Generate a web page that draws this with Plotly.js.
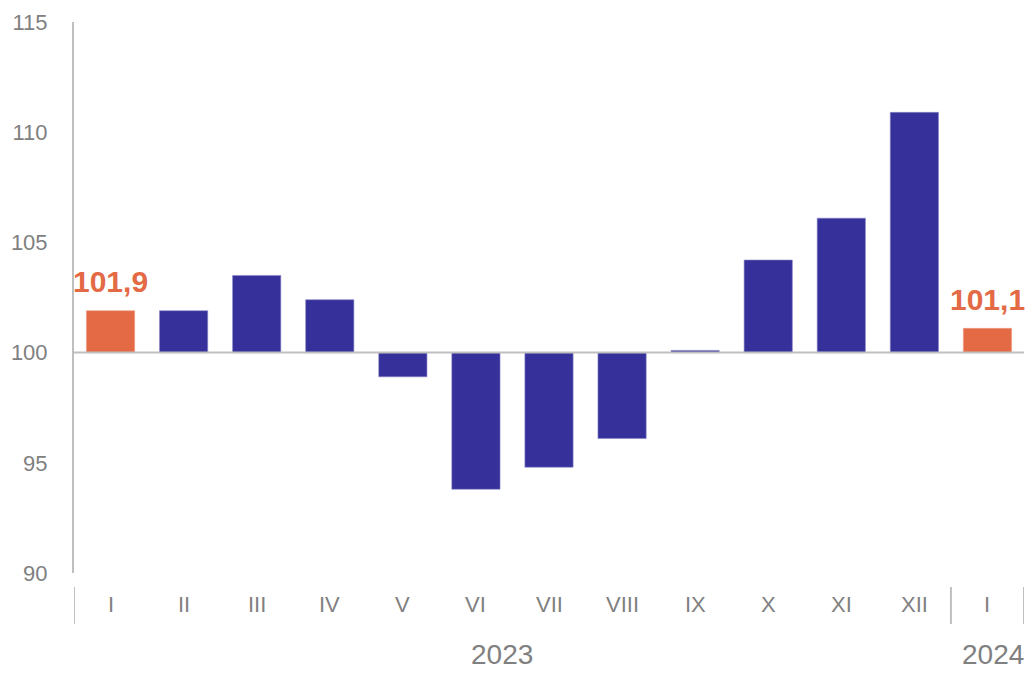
<!DOCTYPE html>
<html>
<head>
<meta charset="utf-8">
<script src="https://cdn.plot.ly/plotly-3.0.1.min.js"></script>
<style>html,body{margin:0;padding:0;background:#fff;}#chart{width:1032px;height:674px;}</style>
</head>
<body>
<div id="chart"></div>
<script>
const months = ["I","II","III","IV","V","VI","VII","VIII","IX","X","XI","XII","I"];
const values = [101.9,101.9,103.5,102.4,98.9,93.8,94.8,96.1,100.1,104.2,106.1,110.9,101.1];
const highlight = [true,false,false,false,false,false,false,false,false,false,false,false,true];
const labelText = ["101,9","","","","","","","","","","","","101,1"];
const years = ["2023","2024"];
const yearCenters = [5.35, 12.07];
const baseValue = 100;
const yTicks = [90,95,100,105,110,115];

const blue = "#35309A", orange = "#E36A45", grey = "#808080", lineGrey = "#BFBFBF";
const xs = months.map((_, i) => i);

const trace = {
  type: "bar",
  x: xs,
  y: values.map(v => v - baseValue),
  base: baseValue,
  width: 0.66,
  marker: {
    color: highlight.map(h => h ? orange : blue),
    line: {color: highlight.map(h => h ? "#EE9A80" : "#8A87C8"), width: 0.6}
  },
  hoverinfo: "skip"
};

const annotations = [];
months.forEach((m, i) => {
  annotations.push({x: i, xref: "x", y: -0.0563, yref: "paper", text: m, showarrow: false,
    xanchor: "center", yanchor: "middle", font: {family: "Liberation Sans, Arial", size: 22, color: grey}});
  if (labelText[i]) {
    annotations.push({x: i, xref: "x", y: values[i], yref: "y", text: "<b>" + labelText[i] + "</b>", showarrow: false,
      xanchor: "center", yanchor: "middle", yshift: 29, font: {family: "Liberation Sans, Arial", size: 30, color: orange}});
  }
});
years.forEach((yr, k) => {
  annotations.push({x: yearCenters[k], xref: "x", y: -0.18, yref: "paper", text: yr, showarrow: false,
    xanchor: "center", yanchor: "bottom", font: {family: "Liberation Sans, Arial", size: 28, color: grey}});
});

const shapes = [
  {type: "line", xref: "paper", x0: 0, x1: 1, yref: "y", y0: baseValue, y1: baseValue, line: {color: lineGrey, width: 2}, layer: "above"}
];
[-0.5, 11.5, 12.5].forEach(x => {
  shapes.push({type: "line", xref: "x", x0: x, x1: x, yref: "paper", y0: -0.0254, y1: -0.0926, line: {color: lineGrey, width: 2}});
});

const layout = {
  width: 1032, height: 674,
  margin: {l: 74, r: 8, t: 22, b: 101},
  paper_bgcolor: "#fff", plot_bgcolor: "#fff",
  showlegend: false,
  xaxis: {range: [-0.5, 12.5], showticklabels: false, showgrid: false, zeroline: false, showline: false, ticks: "", fixedrange: true},
  yaxis: {range: [90, 115], tickvals: yTicks, ticktext: yTicks.map(String), showgrid: false, zeroline: false,
    showline: true, linecolor: lineGrey, linewidth: 2, ticks: "", ticklabelstandoff: 20,
    tickfont: {family: "Liberation Sans, Arial", size: 22, color: grey}, fixedrange: true},
  annotations: annotations,
  shapes: shapes
};

Plotly.newPlot("chart", [trace], layout, {displayModeBar: false, staticPlot: true});
</script>
</body>
</html>
